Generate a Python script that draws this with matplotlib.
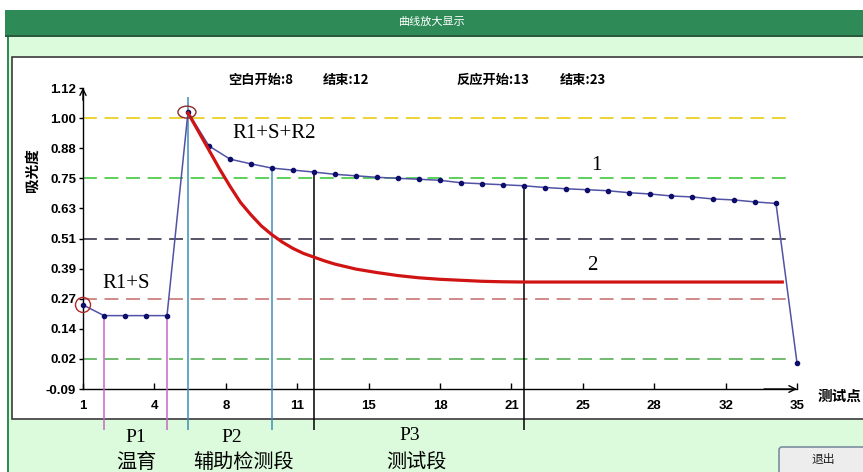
import numpy as np
import matplotlib
matplotlib.use('Agg')
import matplotlib.pyplot as plt
from matplotlib.patches import Rectangle, FancyBboxPatch, Ellipse
from matplotlib.transforms import IdentityTransform

plt.rcParams['font.family'] = ['Liberation Sans', 'Noto Sans CJK SC', 'DejaVu Sans']
plt.rcParams['lines.scale_dashes'] = False

# 曲线1: 测试点 1..35 的吸光度
puntos = np.arange(1, 36)
absorbancia = [0.248, 0.205, 0.205, 0.205, 0.205, 1.023, 0.887, 0.834, 0.815, 0.798,
               0.790, 0.782, 0.773, 0.767, 0.761, 0.757, 0.753, 0.749, 0.739, 0.735,
               0.731, 0.727, 0.720, 0.715, 0.711, 0.707, 0.699, 0.694, 0.686, 0.682,
               0.674, 0.670, 0.662, 0.656, 0.015]

# 曲线2 (红色)
curva2_x = [6.0, 6.5, 7.0, 7.5, 8.0, 8.5, 9.0, 9.5, 10.0, 10.5, 11.0, 11.5, 12.0,
            12.5, 13.0, 14.0, 15.0, 16.0, 17.0, 18.0, 19.0, 20.0, 21.0, 22.0, 34.3]
curva2_y = [1.02, 0.945, 0.87, 0.795, 0.725, 0.66, 0.61, 0.565, 0.53, 0.50, 0.475,
            0.455, 0.44, 0.425, 0.412, 0.392, 0.378, 0.366, 0.357, 0.351, 0.347,
            0.343, 0.341, 0.340, 0.340]

ytick_labels = ['-0.09', '0.02', '0.14', '0.27', '0.39', '0.51', '0.63', '0.75', '0.88', '1.00', '1.12']
xtick_labels = ['1', '4', '8', '11', '15', '18', '21', '25', '28', '32', '35']

# 分段竖线
seg_x = [2, 5, 6, 10, 12, 22]
seg_top = [0.205, 0.205, 1.085, 0.798, 0.782, 0.727]
seg_colores = ['#c766c7', '#c766c7', '#3f8db5', '#3f8db5', 'black', 'black']

# 水平参考虚线 (对应刻度序号)
guia_idx = [9, 7, 5, 3, 1]
guia_colores = ['#e8c700', '#2fc42f', '#2b2640', '#c46a6a', '#4aa84a']

W, H = 863, 472
fig = plt.figure(figsize=(W / 100, H / 100), dpi=100)
fig.patch.set_facecolor('#dcfadc')
pix = IdentityTransform()


def caja(x0, y0, x1, y1, **kw):
    # 像素坐标 (原点左上)
    r = Rectangle((x0, H - y1), x1 - x0, y1 - y0, transform=pix, zorder=-5, **kw)
    fig.add_artist(r)


def texto(x, y, s, **kw):
    fig.text(x / W, 1 - y / H, s, ha=kw.pop('ha', 'center'), va=kw.pop('va', 'center'), **kw)


# 窗口外框与标题栏
caja(0, 0, W, 10, facecolor='white', edgecolor='none')
caja(0, 0, 7, H, facecolor='white', edgecolor='none')
caja(7, 35, 8.5, H, facecolor='#2e8b57', edgecolor='none')
caja(5, 10, W, 35, facecolor='#2e8b57', edgecolor='none')
caja(5, 35, W, 37, facecolor='#2a5a3e', edgecolor='none')
caja(12, 57, W + 10, 419, facecolor='white', edgecolor='#3a3a3a', linewidth=1.2)
texto(432, 22, '曲线放大显示', color='white', fontsize=8, family=['Noto Sans CJK SC'])

# 坐标轴
x0, x1, y0, y1 = 83, 797, 88, 389
ax = fig.add_axes([x0 / W, 1 - y1 / H, (x1 - x0) / W, (y1 - y0) / H])
ax.set_zorder(5)
ax.set_facecolor('none')
ax.set_xlim(1, 35)
ax.set_ylim(-0.09, 1.12)
for lado in ['top', 'right']:
    ax.spines[lado].set_visible(False)
for lado in ['left', 'bottom']:
    ax.spines[lado].set_linewidth(1)

yt = np.linspace(-0.09, 1.12, 11)
ax.set_yticks(yt)
ax.set_yticklabels(ytick_labels, fontweight='bold', fontsize=9.5)
ax.set_xticks(np.linspace(1, 35, 11))
ax.set_xticklabels(xtick_labels, fontweight='bold', fontsize=9.5)
ax.tick_params(axis='y', direction='out', length=3, width=1, pad=2)
ax.tick_params(axis='x', direction='in', length=4, width=1, pad=8)

ax.annotate('', xy=(1.004, 0), xytext=(0.95, 0), xycoords='axes fraction',
            arrowprops=dict(arrowstyle='->', color='black', lw=1, mutation_scale=12))
ax.annotate('', xy=(0, 1.01), xytext=(0, 0.95), xycoords='axes fraction',
            arrowprops=dict(arrowstyle='->', color='black', lw=1, mutation_scale=11))

# 参考虚线
for i, c in zip(guia_idx, guia_colores):
    ax.hlines(yt[i], 1, 34.8, colors=c, linestyles=(0, (10, 5.5)), linewidth=1.1, zorder=2)

# 分段竖线 (延伸到面板下方)
fondo = -0.09 - 0.136 * (1.12 + 0.09)
for xs, top, c in zip(seg_x, seg_top, seg_colores):
    ax.vlines(xs, fondo, top, colors=c, linewidth=1.1, clip_on=False, zorder=3)

ax.plot(puntos, absorbancia, color='#5252a6', linewidth=1.1, marker='o', markersize=3,
        markerfacecolor='#0d0d6b', markeredgecolor='#0d0d6b', zorder=4, clip_on=False)
ax.plot(curva2_x, curva2_y, color='#d01414', linewidth=2.3, zorder=5)

# 圆圈标记
px_x = (x1 - x0) / (35 - 1)
px_y = (y1 - y0) / (1.12 + 0.09)
ax.add_patch(Ellipse((puntos[0], absorbancia[0]), 15 / px_x, 15 / px_y, fill=False,
                     edgecolor='#b02828', linewidth=1, clip_on=False, zorder=6))
ax.add_patch(Ellipse((puntos[5] - 0.05, absorbancia[5]), 18 / px_x, 12 / px_y, fill=False,
                     edgecolor='#8a2a2a', linewidth=1, clip_on=False, zorder=6))

# 文字
cjk_b = dict(family=['Noto Sans CJK SC'], fontweight='bold', fontsize=9.5, ha='left')
texto(228, 80, '空白开始:8', **cjk_b)
texto(323, 80, '结束:12', **cjk_b)
texto(457, 80, '反应开始:13', **cjk_b)
texto(560, 80, '结束:23', **cjk_b)

serif = dict(family=['Liberation Serif'], fontsize=15)
texto(274, 134, 'R1+S+R2', **serif)
texto(126, 284, 'R1+S', **serif)
texto(596, 166, '1', **serif)
texto(592, 266, '2', **serif)

texto(818, 396, '测试点', ha='left', family=['Noto Sans CJK SC'], fontweight='bold', fontsize=10.5)
texto(32, 170, '吸光度', rotation=90, family=['Noto Sans CJK SC'], fontweight='bold', fontsize=10.5)

p_font = dict(family=['Liberation Serif'], fontsize=14)
cjk_font = dict(family=['Noto Sans CJK SC'], fontsize=14.5)
texto(136, 438, 'P1', **p_font)
texto(136, 462, '温育', **cjk_font)
texto(232, 438, 'P2', **p_font)
texto(244, 462, '辅助检测段', **cjk_font)
texto(410, 436, 'P3', **p_font)
texto(416, 462, '测试段', **cjk_font)

# 退出按钮
boton = FancyBboxPatch((779, H - 476), 92, 29, boxstyle='round,pad=0,rounding_size=3',
                       transform=pix, facecolor='#ededed', edgecolor='#7c8ea0', linewidth=1.2)
fig.add_artist(boton)
texto(823, 460, '退出', family=['Noto Sans CJK SC'], fontsize=8.5, color='#202020')

fig.savefig('out.png', dpi=100, facecolor=fig.get_facecolor())
